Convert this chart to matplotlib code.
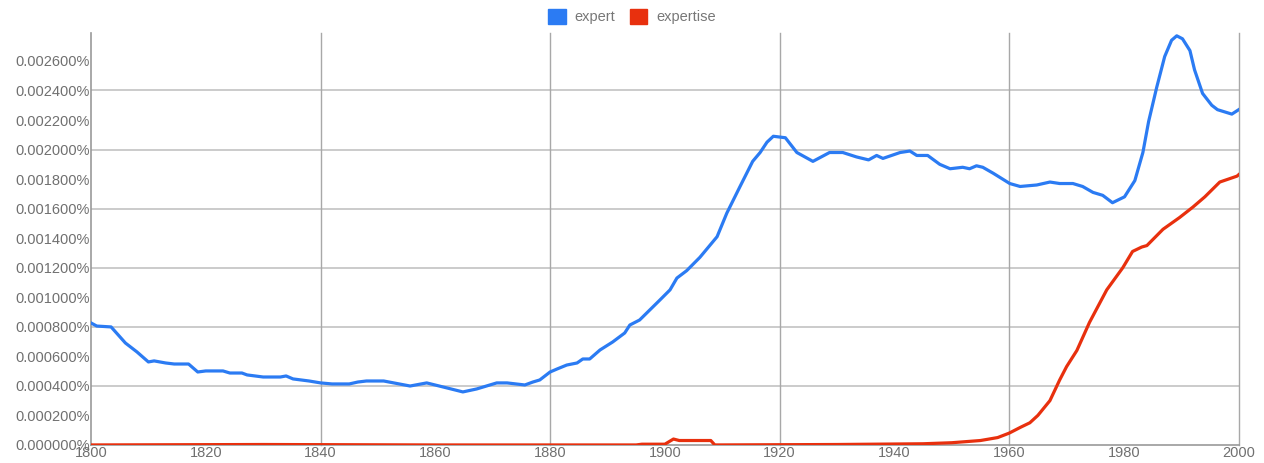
import matplotlib.pyplot as plt
from matplotlib.patches import Patch

plt.rcParams['font.family'] = ['Liberation Sans', 'DejaVu Sans']

# expert (% of corpus)
expert_years = [1800, 1801, 1803.5, 1806, 1808, 1810, 1811, 1813, 1814.5, 1817,
                1818.6, 1820, 1823, 1824.2, 1826.3, 1827.2, 1830, 1833, 1834, 1835.2,
                1838, 1840, 1842, 1845, 1846.5, 1848, 1851, 1855.6, 1858.5, 1861.3,
                1864.8, 1867.2, 1870.7, 1872.5, 1875.6, 1877, 1878.2, 1880, 1881.2, 1882.9,
                1884.7, 1885.7, 1886.9, 1888.7, 1890.9, 1893, 1893.9, 1895.6, 1899.1, 1900.9,
                1902.1, 1903.8, 1906.1, 1909.1, 1910.8, 1913.1, 1915.3, 1916.6, 1917.8, 1918.9,
                1921, 1923, 1925.8, 1928.7, 1931, 1933.4, 1935.5, 1936.9, 1938, 1941,
                1942.7, 1943.9, 1945.8, 1947.9, 1949.7, 1951.9, 1953.1, 1954.3, 1955.4, 1957.2,
                1960.1, 1961.9, 1964.8, 1967.1, 1968.8, 1971.1, 1972.8, 1974.6, 1976.3, 1978,
                1980.1, 1981.9, 1983.3, 1984.3, 1985.7, 1987.1, 1988.3, 1989.2, 1990.2, 1991.5,
                1992.3, 1993.7, 1995.3, 1996.3, 1998.8, 2000]
expert_vals = [0.000826, 0.000805, 0.000799, 0.00069, 0.00063, 0.000562, 0.000569, 0.000555, 0.000548, 0.000548,
               0.000494, 0.000501, 0.000501, 0.000487, 0.000487, 0.000474, 0.00046, 0.00046, 0.000467, 0.000447,
               0.000433, 0.00042, 0.000413, 0.000413, 0.000426, 0.000433, 0.000433, 0.000399, 0.00042, 0.000393,
               0.000359, 0.000379, 0.00042, 0.00042, 0.000406, 0.000426, 0.00044, 0.000494, 0.000514, 0.000541,
               0.000555, 0.000582, 0.000582, 0.000643, 0.000697, 0.000758, 0.000812, 0.000846, 0.00098, 0.00105,
               0.00113, 0.00118, 0.00127, 0.00141, 0.00157, 0.00175, 0.00192, 0.00198, 0.00205, 0.00209,
               0.00208, 0.00198, 0.00192, 0.00198, 0.00198, 0.00195, 0.00193, 0.00196, 0.00194, 0.00198,
               0.00199, 0.00196, 0.00196, 0.0019, 0.00187, 0.00188, 0.00187, 0.00189, 0.00188, 0.00184,
               0.00177, 0.00175, 0.00176, 0.00178, 0.00177, 0.00177, 0.00175, 0.00171, 0.00169, 0.00164,
               0.00168, 0.00179, 0.00198, 0.00219, 0.00242, 0.00263, 0.00274, 0.00277, 0.00275, 0.00267,
               0.00254, 0.00238, 0.0023, 0.00227, 0.00224, 0.00227]

# expertise (% of corpus)
expertise_years = [1800, 1830, 1860, 1895, 1896, 1900, 1901.5, 1902.5, 1908, 1908.7,
                   1930, 1945, 1950, 1955, 1958, 1960, 1962, 1963.6, 1965, 1967.1,
                   1968.8, 1970, 1971.8, 1974, 1977, 1979.8, 1981.5, 1983.1, 1984, 1986.8,
                   1989.7, 1992, 1994.1, 1996.7, 1999.7, 2000]
expertise_vals = [0.0, 0.000003, 0.0, 0.0, 0.000005, 0.000005, 0.00004, 0.00003, 0.00003, 0.0,
                  0.000003, 0.000008, 0.000015, 0.00003, 0.00005, 0.00008, 0.00012, 0.00015, 0.0002, 0.0003,
                  0.00044, 0.00053, 0.00064, 0.00083, 0.00105, 0.0012, 0.00131, 0.00134, 0.00135, 0.00146,
                  0.00154, 0.00161, 0.00168, 0.00178, 0.00182, 0.00183]

labels = ["expert", "expertise"]
colors = ["#2b7bf3", "#e8300e"]

y_ticks = [i * 0.0002 for i in range(14)]
y_grid = [i * 0.0004 for i in range(1, 7)]
x_ticks = list(range(1800, 2001, 20))
x_grid = list(range(1840, 2001, 40))

fig = plt.figure(figsize=(12.64, 4.63), dpi=100)
ax = fig.add_axes([0.072, 0.039, 0.908, 0.890])

# grid lines
for g in y_grid:
    ax.axhline(g, color="#c2c2c2", lw=1.2, zorder=1)
for g in x_grid:
    ax.axvline(g, color="#a8a8a8", lw=1.0, zorder=1, clip_on=False)

ax.plot(expert_years, expert_vals, color=colors[0], lw=2.3, solid_joinstyle="round", zorder=3)
ax.plot(expertise_years, expertise_vals, color=colors[1], lw=2.3, solid_joinstyle="round", zorder=3)

ax.set_xlim(1800, 2000)
ax.set_ylim(0, 0.00279)
ax.set_xticks(x_ticks)
ax.set_yticks(y_ticks)
ax.set_yticklabels([f"{v:.6f}%" for v in y_ticks])
ax.tick_params(length=0, colors="#707070", labelsize=10.5)
ax.tick_params(axis="y", pad=1)
ax.tick_params(axis="x", pad=1)

for s in ["top", "right"]:
    ax.spines[s].set_visible(False)
for s in ["left", "bottom"]:
    ax.spines[s].set_color("#999999")
    ax.spines[s].set_linewidth(1.2)

handles = [Patch(facecolor=c, edgecolor=c) for c in colors]
leg = fig.legend(handles, labels, loc="upper center", bbox_to_anchor=(0.5, 1.0), ncol=2,
                 frameon=False, fontsize=10.5, handlelength=1.2, handleheight=1.2,
                 handletextpad=0.6, columnspacing=1.0, borderaxespad=0.2)
for t in leg.get_texts():
    t.set_color("#777777")

plt.savefig("out.png", dpi=100)
